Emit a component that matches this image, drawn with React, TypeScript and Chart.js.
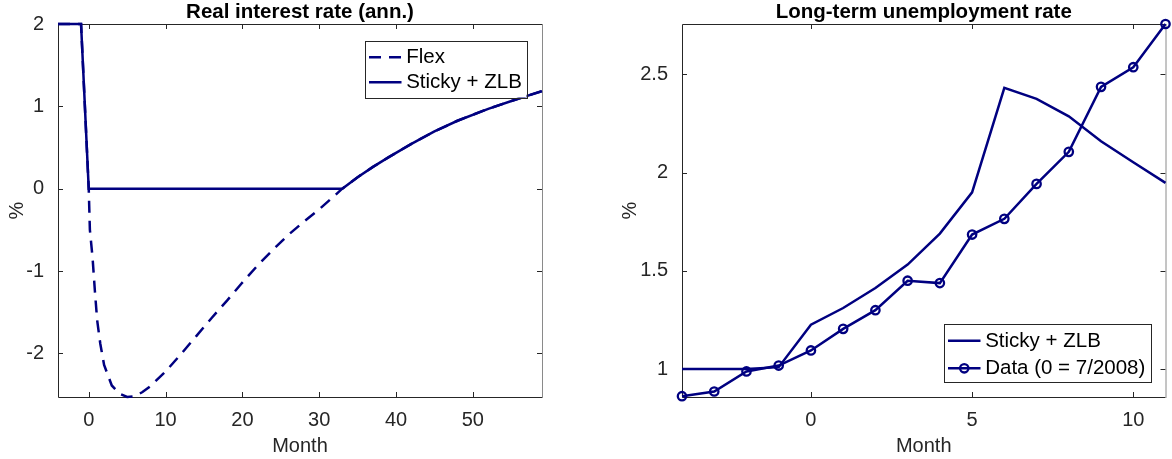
import React, { useEffect, useRef } from 'react';
import { Chart, registerables } from 'chart.js';

Chart.register(...registerables);

// ---------------- Data ----------------
// Left panel: Real interest rate (ann.), %
const FLEX_MONTHS = [-4, -1, 0, 0.15, 0.5, 0.8, 1.1, 1.5, 2, 3, 4, 5, 6, 7, 8, 10, 12, 14, 16, 18, 20, 22, 24, 26, 28, 30, 32, 33, 35, 37, 39, 42, 45, 48, 52, 55.5, 59];
const FLEX_VALUES = [2, 2, 0, -0.5, -0.84, -1.24, -1.6, -1.88, -2.14, -2.39, -2.49, -2.53, -2.52, -2.47, -2.4, -2.22, -2.01, -1.79, -1.57, -1.36, -1.14, -0.93, -0.74, -0.56, -0.4, -0.25, -0.085, 0, 0.14, 0.265, 0.38, 0.545, 0.695, 0.825, 0.97, 1.08, 1.185];
const STICKY_MONTHS = [-4, -1, 0, 33, 35, 37, 39, 42, 45, 48, 52, 55.5, 59];
const STICKY_VALUES = [2, 2, 0, 0, 0.14, 0.265, 0.38, 0.545, 0.695, 0.825, 0.97, 1.08, 1.185];

// Right panel: Long-term unemployment rate, %
const LTU_MONTHS = [-4, -3, -2, -1, 0, 1, 2, 3, 4, 5, 6, 7, 8, 9, 10, 11];
const LTU_STICKY = [1.0, 1.0, 1.0, 1.01, 1.226, 1.311, 1.413, 1.532, 1.69, 1.9, 2.432, 2.376, 2.287, 2.16, 2.053, 1.948];
const LTU_DATA = [0.862, 0.886, 0.988, 1.018, 1.095, 1.205, 1.3, 1.45, 1.438, 1.685, 1.765, 1.943, 2.106, 2.437, 2.537, 2.757];

// Axes
const LEFT_X_RANGE = [-4, 59];
const LEFT_Y_RANGE = [-2.53, 2];
const LEFT_X_TICKS = [0, 10, 20, 30, 40, 50];
const LEFT_Y_TICKS = [-2, -1, 0, 1, 2];
const RIGHT_X_RANGE = [-4, 11];
const RIGHT_Y_RANGE = [0.858, 2.757];
const RIGHT_X_TICKS = [0, 5, 10];
const RIGHT_Y_TICKS = [1, 1.5, 2, 2.5];

const LEFT_TITLE = 'Real interest rate (ann.)';
const RIGHT_TITLE = 'Long-term unemployment rate';
const X_LABEL = 'Month';
const Y_LABEL = '%';

// ---------------- Styles ----------------
const FONT = '"Liberation Sans", Arial, Helvetica, sans-serif';
const NAVY = '#000080';
const AXIS = '#262626';

const pts = (xs: number[], ys: number[]) => xs.map((x, i) => ({ x, y: ys[i] }));

const matlabAxes = {
  id: 'matlabAxes',
  beforeDatasetsDraw(chart: any, _args: any, o: any) {
    const { ctx, chartArea, scales } = chart;
    const { left, right, top, bottom } = chartArea;
    ctx.save();
    ctx.strokeStyle = AXIS;
    ctx.lineWidth = 1;
    ctx.beginPath();
    for (const v of o.xTicks) {
      const p = Math.round(scales.x.getPixelForValue(v)) + 0.5;
      ctx.moveTo(p, bottom); ctx.lineTo(p, bottom - 5);
      ctx.moveTo(p, top); ctx.lineTo(p, top + 5);
    }
    for (const v of o.yTicks) {
      const p = Math.round(scales.y.getPixelForValue(v)) + 0.5;
      ctx.moveTo(left, p); ctx.lineTo(left + 5, p);
      ctx.moveTo(right, p); ctx.lineTo(right - 5, p);
    }
    ctx.stroke();
    ctx.beginPath();
    ctx.moveTo(left + 0.5, top + 0.5);
    ctx.lineTo(left + 0.5, bottom + 0.5);
    ctx.lineTo(right, bottom + 0.5);
    ctx.moveTo(left + 0.5, top + 0.5);
    ctx.lineTo(right, top + 0.5);
    ctx.stroke();
    ctx.strokeStyle = '#8a8a8a';
    ctx.beginPath();
    ctx.moveTo(right + 0.5, top);
    ctx.lineTo(right + 0.5, bottom + 1);
    ctx.stroke();
    ctx.restore();
  },
  afterDraw(chart: any, _args: any, o: any) {
    const { ctx, chartArea } = chart;
    const { left, right, top, bottom } = chartArea;
    ctx.save();
    // title
    ctx.fillStyle = '#000';
    ctx.font = `bold 20.5px ${FONT}`;
    ctx.textAlign = 'center';
    ctx.textBaseline = 'alphabetic';
    ctx.fillText(o.title, (left + right) / 2, 17.5);
    // legend
    const L = o.legend;
    const bx = right - L.dx - L.w;
    const by = L.anchor === 'ne' ? top + L.dy : bottom - L.dy - L.h;
    ctx.fillStyle = '#fff';
    ctx.fillRect(bx, by, L.w, L.h);
    ctx.strokeStyle = AXIS;
    ctx.lineWidth = 1;
    ctx.strokeRect(Math.round(bx) + 0.5, Math.round(by) + 0.5, Math.round(L.w), Math.round(L.h));
    L.items.forEach((di: number, i: number) => {
      const ds = chart.data.datasets[di];
      const ry = by + L.rows[i];
      const x0 = bx + 4.5;
      const x1 = bx + 37;
      ctx.strokeStyle = ds.borderColor;
      ctx.lineWidth = ds.borderWidth;
      ctx.setLineDash(ds.borderDash || []);
      ctx.beginPath();
      ctx.moveTo(x0, ry);
      ctx.lineTo(x1, ry);
      ctx.stroke();
      ctx.setLineDash([]);
      if (ds.pointRadius > 0) {
        ctx.lineWidth = ds.pointBorderWidth;
        ctx.beginPath();
        ctx.arc((x0 + x1) / 2, ry, ds.pointRadius, 0, Math.PI * 2);
        ctx.stroke();
      }
      ctx.fillStyle = '#000';
      ctx.font = `20.5px ${FONT}`;
      ctx.textAlign = 'left';
      ctx.textBaseline = 'middle';
      ctx.fillText(ds.label, bx + 41.7, ry + 0.5);
    });
    ctx.restore();
  },
};

function makeConfig(p: any) {
  const tickFont = { family: FONT, size: 20 };
  return {
    type: 'line',
    data: { datasets: p.datasets },
    plugins: [matlabAxes],
    options: {
      animation: false,
      responsive: false,
      maintainAspectRatio: false,
      layout: { padding: { left: 0, top: 24, right: p.padRight, bottom: 0 } },
      plugins: {
        legend: { display: false },
        title: { display: false },
        tooltip: { enabled: false },
        matlabAxes: { title: p.title, xTicks: p.xTicks, yTicks: p.yTicks, legend: p.legend },
      },
      scales: {
        x: {
          type: 'linear',
          min: p.xRange[0],
          max: p.xRange[1],
          grid: { display: false },
          border: { display: false },
          afterBuildTicks: (s: any) => { s.ticks = p.xTicks.map((v: number) => ({ value: v })); },
          afterFit: (s: any) => { s.height = 62; },
          ticks: {
            autoSkip: false, maxRotation: 0, padding: 3, color: AXIS, font: tickFont,
            callback: (v: number) => String(v),
          },
          title: { display: true, text: X_LABEL, color: AXIS, font: { family: FONT, size: 20, lineHeight: 1.2 }, padding: { top: 0, bottom: 1 } },
        },
        y: {
          type: 'linear',
          min: p.yRange[0],
          max: p.yRange[1],
          grid: { display: false },
          border: { display: false },
          afterBuildTicks: (s: any) => { s.ticks = p.yTicks.map((v: number) => ({ value: v })); },
          afterFit: (s: any) => { s.width = p.yAxisWidth; },
          ticks: {
            autoSkip: false, padding: 6, color: AXIS, font: tickFont,
            callback: (v: number) => String(v),
          },
          title: { display: true, text: Y_LABEL, color: AXIS, font: { family: FONT, size: 20, lineHeight: 1.2 }, padding: { top: p.yTitlePad, bottom: 0 } },
        },
      },
    },
  };
}

export default function App() {
  const leftRef = useRef<HTMLCanvasElement | null>(null);
  const rightRef = useRef<HTMLCanvasElement | null>(null);

  useEffect(() => {
    const line = {
      borderColor: NAVY,
      backgroundColor: NAVY,
      borderWidth: 2.5,
      pointRadius: 0,
      fill: false,
      tension: 0,
      clip: false,
    };
    const left = new Chart(leftRef.current as HTMLCanvasElement, makeConfig({
      title: LEFT_TITLE,
      xRange: LEFT_X_RANGE, yRange: LEFT_Y_RANGE,
      xTicks: LEFT_X_TICKS, yTicks: LEFT_Y_TICKS,
      yAxisWidth: 58, padRight: 44, yTitlePad: 5,
      legend: { anchor: 'ne', dx: 15.5, dy: 16.5, w: 162, h: 57, rows: [16.7, 41.7], items: [0, 1] },
      datasets: [
        { ...line, label: 'Flex', data: pts(FLEX_MONTHS, FLEX_VALUES), borderDash: [12, 8], order: 1 },
        { ...line, label: 'Sticky + ZLB', data: pts(STICKY_MONTHS, STICKY_VALUES), order: 0 },
      ],
    }) as any);
    const right = new Chart(rightRef.current as HTMLCanvasElement, makeConfig({
      title: RIGHT_TITLE,
      xRange: RIGHT_X_RANGE, yRange: RIGHT_Y_RANGE,
      xTicks: RIGHT_X_TICKS, yTicks: RIGHT_Y_TICKS,
      yAxisWidth: 96, padRight: 6, yTitlePad: 32,
      legend: { anchor: 'se', dx: 15, dy: 14.3, w: 207, h: 58.4, rows: [16.4, 44], items: [0, 1] },
      datasets: [
        { ...line, label: 'Sticky + ZLB', data: pts(LTU_MONTHS, LTU_STICKY), order: 1 },
        {
          ...line, label: 'Data (0 = 7/2008)', data: pts(LTU_MONTHS, LTU_DATA), order: 0,
          pointRadius: 4.2, pointBorderWidth: 2.3, pointBorderColor: NAVY,
          pointBackgroundColor: 'rgba(0,0,0,0)', pointStyle: 'circle',
        },
      ],
    }) as any);
    return () => { left.destroy(); right.destroy(); };
  }, []);

  return (
    <div style={{ position: 'absolute', left: 0, top: 0, width: 1172, height: 459, background: '#fff' }}>
      <canvas ref={leftRef} width={586} height={459} style={{ position: 'absolute', left: 0, top: 0, width: 586, height: 459 }} />
      <canvas ref={rightRef} width={586} height={459} style={{ position: 'absolute', left: 586, top: 0, width: 586, height: 459 }} />
    </div>
  );
}
